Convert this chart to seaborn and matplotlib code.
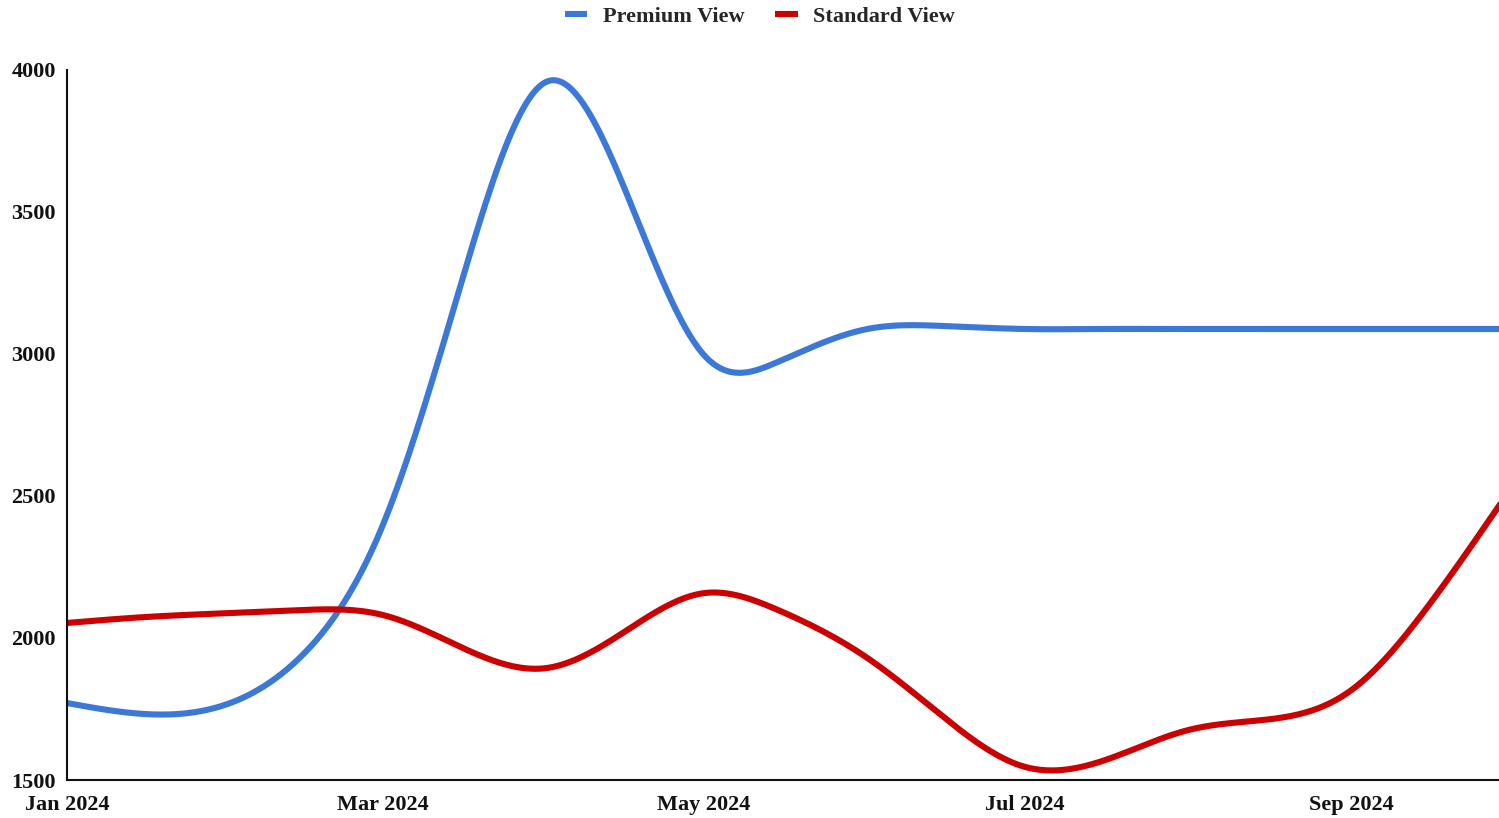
import numpy as np
import pandas as pd
import matplotlib
matplotlib.use("Agg")
import matplotlib.pyplot as plt
import matplotlib.dates as mdates
import seaborn as sns

# Sampling dates (1st and 15th of each month)
dates = ["2024-01-01", "2024-01-16", "2024-02-01", "2024-02-15", "2024-03-01",
         "2024-03-15", "2024-04-01", "2024-04-15", "2024-05-01", "2024-05-15",
         "2024-06-01", "2024-06-15", "2024-07-01", "2024-07-15", "2024-08-01",
         "2024-08-15", "2024-09-01", "2024-09-15", "2024-10-01"]

premium_view = [1771, 1732, 1771, 1945, 2398,
                3194, 3958, 3623, 2996, 2972,
                3088, 3099, 3088, 3088, 3088,
                3088, 3088, 3088, 3088]

standard_view = [2053, 2074, 2088, 2099, 2081,
                 1975, 1894, 2011, 2158, 2099,
                 1930, 1729, 1546, 1563, 1676,
                 1711, 1817, 2099, 2520]

series_names = ["Premium View", "Standard View"]
series_colors = ["#3c78d8", "#cc0000"]
x_ticks = ["2024-01-01", "2024-03-01", "2024-05-01", "2024-07-01", "2024-09-01"]
y_ticks = [1500, 2000, 2500, 3000, 3500, 4000]


def natural_spline(xs, ys, per_seg=40):
    """Natural cubic spline through the given points (C2 continuous)."""
    xs = np.asarray(xs, float)
    ys = np.asarray(ys, float)
    n = len(xs)
    h = np.diff(xs)
    A = np.zeros((n, n))
    b = np.zeros(n)
    A[0, 0] = A[-1, -1] = 1.0
    for i in range(1, n - 1):
        A[i, i - 1] = h[i - 1]
        A[i, i] = 2 * (h[i - 1] + h[i])
        A[i, i + 1] = h[i]
        b[i] = 6 * ((ys[i + 1] - ys[i]) / h[i] - (ys[i] - ys[i - 1]) / h[i - 1])
    M = np.linalg.solve(A, b)
    out_x, out_y = [], []
    for i in range(n - 1):
        t = np.linspace(xs[i], xs[i + 1], per_seg, endpoint=(i == n - 2))
        a = xs[i + 1] - t
        c = t - xs[i]
        y = (M[i] * a**3 + M[i + 1] * c**3) / (6 * h[i]) \
            + (ys[i] / h[i] - M[i] * h[i] / 6) * a \
            + (ys[i + 1] / h[i] - M[i + 1] * h[i] / 6) * c
        out_x.append(t)
        out_y.append(y)
    return np.concatenate(out_x), np.concatenate(out_y)


sns.set_theme(style="white")
plt.rcParams["font.family"] = ["Liberation Serif", "DejaVu Serif"]

fig = plt.figure(figsize=(14.99, 8.18), dpi=100)
ax = fig.add_axes([67 / 1499, 38 / 818, 1 - 67 / 1499, (780 - 70) / 818])

xnum = mdates.date2num(pd.to_datetime(dates))
frames = []
for name, vals in zip(series_names, [premium_view, standard_view]):
    sx, sy = natural_spline(xnum, vals)
    frames.append(pd.DataFrame({"date": mdates.num2date(sx), "value": sy, "series": name}))
df = pd.concat(frames, ignore_index=True)
df["date"] = pd.to_datetime(df["date"]).dt.tz_localize(None)

sns.lineplot(data=df, x="date", y="value", hue="series", hue_order=series_names,
             palette=series_colors, linewidth=4.4, sort=False, estimator=None,
             ax=ax, legend=False)

ax.set_xlim(pd.Timestamp("2024-01-01"), pd.Timestamp("2024-09-29"))
ax.set_ylim(1500, 4000)
ax.set_xticks(pd.to_datetime(x_ticks))
ax.xaxis.set_major_formatter(mdates.DateFormatter("%b %Y"))
ax.set_yticks(y_ticks)
ax.set_xlabel("")
ax.set_ylabel("")
ax.tick_params(axis="both", length=0, labelsize=16, colors="#111111")
ax.tick_params(axis="y", pad=8)
ax.tick_params(axis="x", pad=11)
for lbl in ax.get_xticklabels() + ax.get_yticklabels():
    lbl.set_fontweight("bold")

for side in ["top", "right"]:
    ax.spines[side].set_visible(False)
for side in ["left", "bottom"]:
    ax.spines[side].set_color("#111111")
    ax.spines[side].set_linewidth(1.5)
ax.grid(False)

handles = [plt.Line2D([0], [0], color=c, linewidth=4.4, solid_capstyle="butt")
           for c in series_colors]
fig.legend(handles, series_names, loc="upper center", bbox_to_anchor=(0.507, 1.017),
           ncol=2, frameon=False, handlelength=1.0, handletextpad=0.7,
           columnspacing=1.4, prop={"size": 16, "weight": "bold"})

fig.savefig("out.png", dpi=100)
